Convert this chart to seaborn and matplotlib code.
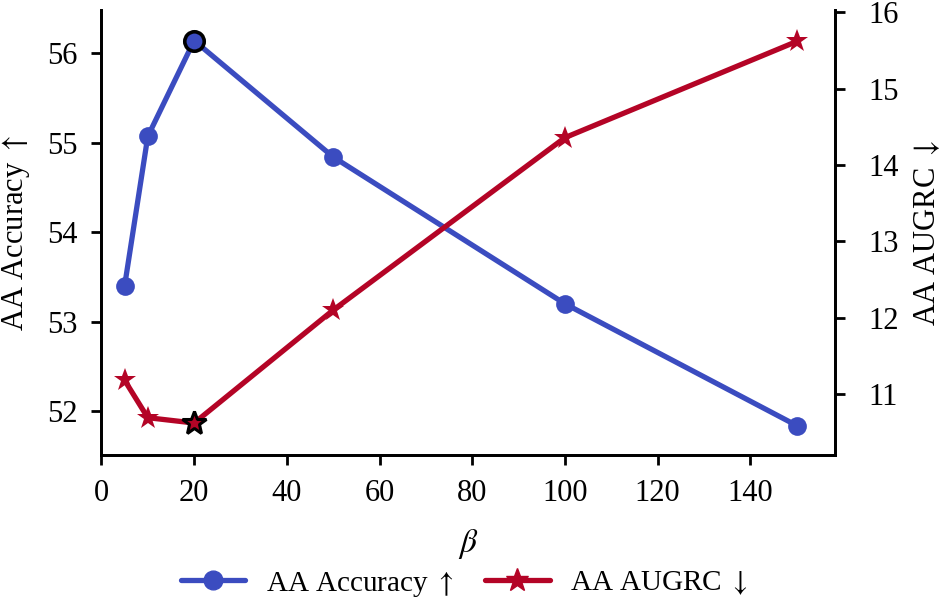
import matplotlib
matplotlib.use("Agg")
import matplotlib.pyplot as plt
import seaborn as sns
import pandas as pd
from matplotlib.lines import Line2D

beta = [5, 10, 20, 50, 100, 150]
acc = [53.40, 55.07, 56.14, 54.84, 53.20, 51.84]
augrc = [11.18, 10.69, 10.62, 12.10, 14.36, 15.62]
x_ticks = [0, 20, 40, 60, 80, 100, 120, 140]

sns.set_theme(style="ticks")
plt.rcParams['font.family'] = ['Liberation Serif', 'DejaVu Serif']
plt.rcParams['mathtext.fontset'] = 'stix'
plt.rcParams['text.color'] = 'black'
plt.rcParams['axes.labelcolor'] = 'black'
plt.rcParams['xtick.color'] = 'black'
plt.rcParams['ytick.color'] = 'black'

blue = "#3B4CC0"
red = "#B40426"

df = pd.DataFrame({"beta": beta, "acc": acc, "augrc": augrc})

fig, ax = plt.subplots(figsize=(9.48, 5.98), dpi=100)
ax2 = ax.twinx()

lw = 3.8
sns.lineplot(data=df, x="beta", y="acc", ax=ax, color=blue, lw=lw,
             marker="o", markersize=13.5, markeredgewidth=0, legend=False)
sns.lineplot(data=df, x="beta", y="augrc", ax=ax2, color=red, lw=lw,
             marker="*", markersize=17, markeredgewidth=0, legend=False)

ib = acc.index(max(acc))
ax.plot([beta[ib]], [acc[ib]], marker="o", markersize=14, color=blue,
        markeredgecolor="black", markeredgewidth=2.6, zorder=5)
ir = augrc.index(min(augrc))
ax2.plot([beta[ir]], [augrc[ir]], marker="*", markersize=18, color=red,
         markeredgecolor="black", markeredgewidth=2.2, zorder=5)

ax.set_xlim(0, 158.3)
ax.set_ylim(51.51, 56.48)
ax2.set_ylim(10.2, 16.03)
ax.set_xticks(x_ticks)
ax.set_yticks([52, 53, 54, 55, 56])
ax2.set_yticks([11, 12, 13, 14, 15, 16])

fs = 22
ax.set_xlabel(r"$\beta$", fontsize=fs + 2, labelpad=14)
ax.set_ylabel(r"AA Accuracy $\uparrow$", fontsize=fs, labelpad=11)
ax2.set_ylabel(r"AA AUGRC $\downarrow$", fontsize=fs, labelpad=9)

for a in (ax, ax2):
    a.tick_params(axis="both", labelsize=fs, length=7, width=2, direction="out",
                  color="black", labelcolor="black", pad=10)
    for s in a.spines.values():
        s.set_linewidth(2)
        s.set_color("black")
    a.spines["top"].set_visible(False)
    a.grid(False)
ax2.tick_params(axis="y", pad=17)

handles = [Line2D([0], [0], color=blue, lw=lw, marker="o", markersize=13.5),
           Line2D([0], [0], color=red, lw=lw, marker="*", markersize=17)]
fig.legend(handles, [r"AA Accuracy $\uparrow$", r"AA AUGRC $\downarrow$"],
           loc="lower center", ncol=2, frameon=False, fontsize=21,
           bbox_to_anchor=(0.49, -0.045), handlelength=2.2,
           columnspacing=1.1, handletextpad=0.7)

fig.subplots_adjust(left=0.107, right=0.881, top=0.983, bottom=0.239)
fig.savefig("out.png", dpi=100)
